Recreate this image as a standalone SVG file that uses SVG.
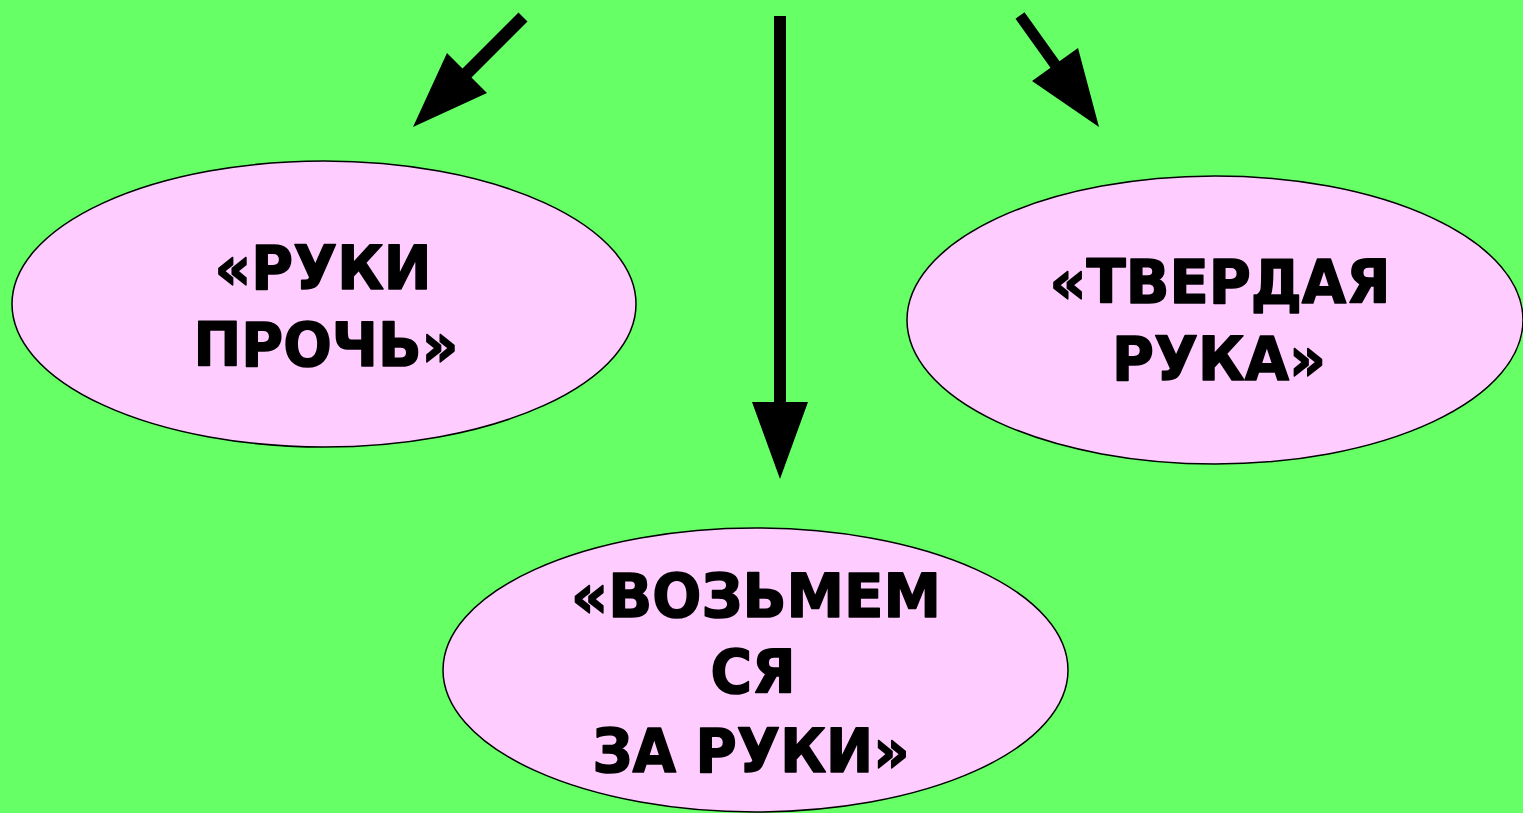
<svg xmlns="http://www.w3.org/2000/svg" width="1523" height="813" viewBox="0 0 1523 813">
<style>
.node ellipse{fill:#FFCCFF;stroke:#000;stroke-width:1.5}
.node text{font-family:"DejaVu Sans","Liberation Sans",sans-serif;font-weight:bold;font-size:60px;fill:#000;stroke:#000;stroke-width:1.6;stroke-linejoin:round;text-anchor:middle}
.arrow{fill:#000;stroke:none}
</style>
<rect width="1523" height="813" fill="#66FF66"/>
<g id="connectors">
<polygon class="arrow" points="518.5,12.5 527.5,21.5 471.5,77.5 487,93 413,127 447,53 462.5,68.5"/>
<polygon class="arrow" points="774,16 786,16 786,402 808,402 780,479 752,402 774,402"/>
<polygon class="arrow" points="1015.5,18.7 1024.5,12.3 1059.5,61.3 1078,48 1099,127 1032,81 1050.5,67.7"/>
</g>
<g id="node-left" class="node">
<ellipse cx="324" cy="304" rx="312" ry="143"/>
<text x="323" y="289" textLength="217" lengthAdjust="spacingAndGlyphs">«РУКИ</text>
<text x="326" y="366" textLength="265" lengthAdjust="spacingAndGlyphs">ПРОЧЬ»</text>
</g>
<g id="node-right" class="node">
<ellipse cx="1215" cy="320" rx="308" ry="144"/>
<text x="1220" y="303" textLength="341" lengthAdjust="spacingAndGlyphs">«ТВЕРДАЯ</text>
<text x="1219" y="380" textLength="214" lengthAdjust="spacingAndGlyphs">РУКА»</text>
</g>
<g id="node-bottom" class="node">
<ellipse cx="755.5" cy="670" rx="312.5" ry="142"/>
<text x="756" y="617" textLength="370" lengthAdjust="spacingAndGlyphs">«ВОЗЬМЕМ</text>
<text x="753" y="693" textLength="85" lengthAdjust="spacingAndGlyphs">СЯ</text>
<text x="751" y="772" textLength="317" lengthAdjust="spacingAndGlyphs">ЗА РУКИ»</text>
</g>
</svg>
